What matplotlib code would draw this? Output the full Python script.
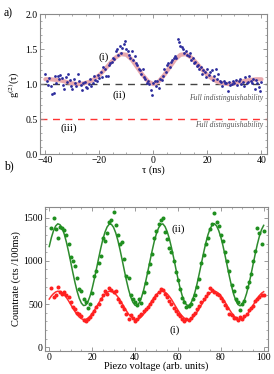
import matplotlib
matplotlib.use("Agg")
import matplotlib.pyplot as plt
import numpy as np
from matplotlib.ticker import MultipleLocator, FormatStrFormatter

plt.rcParams["font.family"] = ["Liberation Serif", "DejaVu Serif"]
plt.rcParams["mathtext.fontset"] = "stix"

# ── panel a: g2(tau) ────────────────────────────────────────────
tau_pts = np.arange(-40, 40.5, 0.5)
g2_pts = [
    1.14, 1.05, 0.99, 1.09, 0.98, 0.86, 0.88, 1.11, 1.02, 1.12,
    1.07, 1.13, 1.09, 0.99, 0.93, 1.10, 1.03, 1.14, 1.06, 0.97,
    0.93, 1.08, 1.02, 0.98, 1.14, 1.05, 0.99, 0.92, 1.01, 1.03,
    0.96, 0.95, 1.00, 1.08, 0.98, 1.02, 1.11, 1.06, 1.04, 1.13,
    1.09, 1.18, 1.10, 1.24, 1.22, 1.12, 1.11, 1.28, 1.30, 1.32,
    1.38, 1.36, 1.47, 1.50, 1.42, 1.55, 1.45, 1.52, 1.58, 1.62,
    1.50, 1.47, 1.42, 1.38, 1.47, 1.35, 1.40, 1.30, 1.28, 1.22,
    1.20, 1.15, 1.22, 1.10, 1.08, 1.02, 1.05, 1.00, 0.92, 0.85,
    1.02, 1.05, 0.98, 1.04, 0.95, 1.08, 1.06, 1.12, 1.22, 1.18,
    1.28, 1.30, 1.25, 1.32, 1.35, 1.38, 1.40, 1.38, 1.65, 1.60,
    1.55, 1.53, 1.50, 1.45, 1.48, 1.42, 1.40, 1.44, 1.35, 1.38,
    1.30, 1.32, 1.26, 1.28, 1.22, 1.25, 1.15, 1.20, 1.18, 1.10,
    1.21, 1.13, 1.17, 1.20, 1.06, 1.12, 1.22, 1.08, 1.15, 1.04,
    1.03, 0.98, 1.04, 1.02, 1.01, 0.90, 1.03, 0.99, 1.00, 1.05,
    1.02, 1.06, 0.99, 1.04, 1.07, 1.00, 1.03, 0.97, 1.10, 1.01,
    1.03, 1.12, 1.05, 1.01, 1.08, 0.93, 1.06, 1.02, 0.96, 0.90,
    1.03,
]
tau_fit = np.arange(-40, 41, 2)
g2_fit = [
    1.07, 1.07, 1.06, 1.05, 1.03, 1.01, 1.00, 1.01, 1.03, 1.07,
    1.13, 1.21, 1.30, 1.38, 1.43, 1.42, 1.35, 1.24, 1.13, 1.04,
    1.00,
    1.04, 1.13, 1.24, 1.35, 1.42, 1.43, 1.38, 1.30, 1.21, 1.13,
    1.07, 1.03, 1.01, 1.00, 1.01, 1.03, 1.05, 1.06, 1.07, 1.07,
]

# ── panel b: countrate vs piezo voltage ─────────────────────────
piezo_pts = np.arange(1, 101)
green_pts = [
    1380, 1490, 1370, 1260, 1390, 1380, 1360, 1300, 1190, 1040,
    1000, 940, 800, 680, 650, 560, 520, 460, 500, 630,
    820, 880, 980, 1060, 1260, 1230, 1320, 1450, 1470, 1560,
    1410, 1300, 1200, 1220, 1020, 830, 800, 610, 560, 520,
    490, 560, 510, 640, 740, 870, 960, 1080, 1260, 1340,
    1420, 1470, 1500, 1330, 1250, 1150, 1100, 1000, 870, 780,
    680, 570, 520, 470, 480, 500, 560, 600, 700, 790,
    980, 1070, 1200, 1260, 1370, 1430, 1550, 1450, 1400, 1300,
    1230, 1100, 1000, 880, 720, 650, 560, 520, 430, 500,
    530, 700, 760, 850, 1000, 1110, 1380, 1320, 1190, 1350,
]
red_pts = [
    690, 580, 610, 700, 640, 620, 640, 600, 580, 520,
    470, 440, 400, 380, 360, 320, 310, 330, 350, 380,
    420, 470, 500, 560, 600, 650, 620, 690, 660, 640,
    650, 560, 520, 480, 440, 380, 330, 370, 340, 300,
    330, 360, 380, 420, 440, 470, 500, 540, 570, 600,
    640, 680, 660, 620, 580, 540, 500, 450, 420, 390,
    360, 330, 310, 330, 320, 340, 370, 400, 440, 480,
    520, 560, 590, 630, 690, 660, 640, 620, 600, 570,
    530, 490, 450, 380, 370, 340, 340, 320, 350, 330,
    360, 390, 430, 460, 480, 540, 560, 580, 600, 610,
]
piezo_fit = np.arange(0, 101)
green_fit = [
    1165, 1268, 1348, 1403, 1428, 1418, 1378, 1309, 1217, 1108,
    988, 866, 751, 648, 567, 511, 483, 488, 525, 590,
    679, 786, 904, 1025, 1142, 1247, 1332, 1392, 1424, 1422,
    1387, 1324, 1237, 1130, 1012, 891, 773, 668, 582, 521,
    487, 484, 516, 576, 660, 764, 880, 1001, 1118, 1227,
    1316, 1381, 1421, 1427, 1396, 1338, 1256, 1153, 1037, 915,
    796, 688, 598, 531, 492, 482, 508, 562, 642, 742,
    857, 976, 1095, 1206, 1300, 1370, 1415, 1430, 1405, 1352,
    1275, 1176, 1061, 940, 820, 709, 613, 541, 495, 480,
    499, 546, 621, 718, 831, 952, 1073, 1187, 1284, 1361,
    1410,
]
red_fit = [
    558, 594, 621, 640, 649, 646, 632, 608, 576, 538,
    496, 454, 414, 378, 350, 331, 321, 323, 336, 358,
    389, 426, 467, 509, 550, 586, 616, 637, 648, 647,
    635, 613, 583, 546, 505, 463, 422, 385, 356, 334,
    323, 322, 333, 354, 383, 419, 459, 501, 542, 579,
    610, 633, 647, 649, 638, 618, 589, 554, 513, 471,
    430, 392, 361, 338, 324, 321, 330, 349, 376, 411,
    451, 492, 534, 572, 605, 629, 645, 650, 641, 623,
    596, 562, 522, 480, 438, 400, 366, 341, 325, 320,
    327, 343, 369, 403, 442, 484, 526, 565, 599, 626,
    643,
]

SPINE = "#8a8a8a"
FS = 7


def style_axes(ax):
    for s in ax.spines.values():
        s.set_color(SPINE)
        s.set_linewidth(0.8)
    ax.tick_params(which="both", direction="in", top=True, right=True,
                   color=SPINE, labelsize=FS, pad=1.5)
    ax.tick_params(which="major", length=3, width=0.6)
    ax.tick_params(which="minor", length=1.5, width=0.5)


fig = plt.figure(figsize=(2.74, 3.74), dpi=100)

# panel a
ax1 = fig.add_axes([0.146, 0.588, 0.828, 0.374])
ax1.plot(tau_fit, g2_fit, color="#e8a9ae", lw=3, solid_capstyle="round", zorder=2)
ax1.plot(tau_pts, g2_pts, "o", color="#2b2b9c", ms=2.0, mew=0, zorder=3)
ax1.axhline(1.0, color="#444444", lw=1.0, ls=(0, (5, 4)), zorder=1)
ax1.axhline(0.5, color="#ff3333", lw=1.0, ls=(0, (5, 4)), zorder=1)
ax1.set_xlim(-42, 42)
ax1.set_ylim(0, 2.0)
ax1.xaxis.set_major_locator(MultipleLocator(20))
ax1.xaxis.set_minor_locator(MultipleLocator(5))
ax1.yaxis.set_major_locator(MultipleLocator(0.5))
ax1.yaxis.set_minor_locator(MultipleLocator(0.1))
ax1.yaxis.set_major_formatter(FormatStrFormatter("%.1f"))
ax1.set_xlabel("τ (ns)", fontsize=FS + 0.5, labelpad=0)
ax1.set_ylabel("g$^{(2)}$(τ)", fontsize=FS + 0.5, labelpad=3)
style_axes(ax1)
ax1.text(40.5, 0.80, "Full indistinguishability", style="italic",
         fontsize=5.5, color="#555555", ha="right", va="center")
ax1.text(40.5, 0.41, "Full distinguishability", style="italic",
         fontsize=5.5, color="#555555", ha="right", va="center")
ax1.text(-18.5, 1.38, "(i)", fontsize=8, ha="center", va="center")
ax1.text(-12.5, 0.84, "(ii)", fontsize=8, ha="center", va="center")
ax1.text(-31.5, 0.37, "(iii)", fontsize=8, ha="center", va="center")
fig.text(0.015, 0.965, "a)", fontsize=8.5, va="center")

# panel b
ax2 = fig.add_axes([0.164, 0.062, 0.814, 0.384])
ax2.plot(piezo_fit, green_fit, color="#2e8b2e", lw=1.1, zorder=2)
ax2.plot(piezo_fit, red_fit, color="#ff3030", lw=1.1, zorder=2)
ax2.plot(piezo_pts, green_pts, "o", color="#1f8f1f", ms=2.9, mew=0, zorder=3)
ax2.plot(piezo_pts, red_pts, "o", color="#ff2020", ms=2.9, mew=0, zorder=3)
ax2.set_xlim(-2, 102)
ax2.set_ylim(-40, 1620)
ax2.xaxis.set_major_locator(MultipleLocator(20))
ax2.xaxis.set_minor_locator(MultipleLocator(5))
ax2.yaxis.set_major_locator(MultipleLocator(500))
ax2.yaxis.set_minor_locator(MultipleLocator(100))
ax2.set_xlabel("Piezo voltage (arb. units)", fontsize=FS + 0.5, labelpad=-0.5)
ax2.set_ylabel("Countrate (cts /100ms)", fontsize=FS + 0.5, labelpad=2)
style_axes(ax2)
ax2.text(60, 1360, "(ii)", fontsize=8, ha="center", va="center")
ax2.text(58.5, 195, "(i)", fontsize=8, ha="center", va="center")
fig.text(0.015, 0.555, "b)", fontsize=8.5, va="center")

fig.savefig("out.png", dpi=100)
